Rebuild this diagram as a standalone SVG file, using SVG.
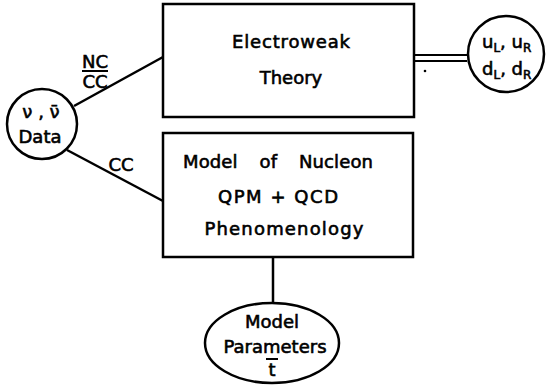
<svg xmlns="http://www.w3.org/2000/svg" width="547" height="390" viewBox="0 0 547 390">
<style>
.s{fill:none;stroke:#000;stroke-width:2.5}
.t{font-family:"DejaVu Sans","Liberation Sans",sans-serif;font-size:18px;fill:#000;stroke:#000;stroke-width:0.6;text-anchor:middle}
.q{font-family:"DejaVu Sans","Liberation Sans",sans-serif;font-size:18px;fill:#000;stroke:#000;stroke-width:0.6}
.sub{font-size:12px}
</style>
<rect width="547" height="390" fill="#fff"/>
<g id="connectors">
<line class="s" x1="74" y1="106" x2="163" y2="57"/>
<line class="s" x1="67" y1="150" x2="163" y2="201"/>
<line class="s" x1="414" y1="55" x2="467" y2="55" style="stroke-width:2"/>
<line class="s" x1="414" y1="61" x2="467" y2="61" style="stroke-width:2"/>
<line class="s" x1="273" y1="257" x2="273" y2="303"/>
<circle cx="425" cy="71" r="1.3" fill="#000"/>
<text class="t" x="95" y="68">NC</text>
<line x1="82" y1="71" x2="108" y2="71" stroke="#000" stroke-width="2"/>
<text class="t" x="95" y="88">CC</text>
<text class="t" x="121" y="171">CC</text>
</g>
<g id="electroweak">
<rect class="s" x="163" y="4" width="251" height="113"/>
<text class="t" x="291" y="48" textLength="118" lengthAdjust="spacing">Electroweak</text>
<text class="t" x="291" y="84">Theory</text>
</g>
<g id="nucleon">
<rect class="s" x="163" y="133" width="250" height="124"/>
<text class="t" x="278" y="168" textLength="190" lengthAdjust="spacing" style="word-spacing:16px">Model of Nucleon</text>
<text class="t" x="278" y="203" textLength="120" lengthAdjust="spacing">QPM + QCD</text>
<text class="t" x="284" y="235" textLength="159" lengthAdjust="spacing">Phenomenology</text>
</g>
<g id="data">
<circle class="s" cx="42" cy="124" r="35"/>
<text class="t" x="41" y="118">ν , ν̄</text>
<text class="t" x="40" y="143">Data</text>
</g>
<g id="quarks">
<circle class="s" cx="506" cy="54" r="38"/>
<text class="q" x="482" y="48">u<tspan class="sub" dy="4">L</tspan><tspan dy="-4">, u</tspan><tspan class="sub" dy="4">R</tspan></text>
<text class="q" x="482" y="75">d<tspan class="sub" dy="4">L</tspan><tspan dy="-4">, d</tspan><tspan class="sub" dy="4">R</tspan></text>
</g>
<g id="params">
<ellipse class="s" cx="272" cy="343" rx="67" ry="40"/>
<text class="t" x="272" y="328">Model</text>
<text class="t" x="275" y="353">Parameters</text>
<text class="t" x="272" y="376">t</text>
<line x1="266" y1="359" x2="278" y2="359" stroke="#000" stroke-width="2"/>
</g>
</svg>
